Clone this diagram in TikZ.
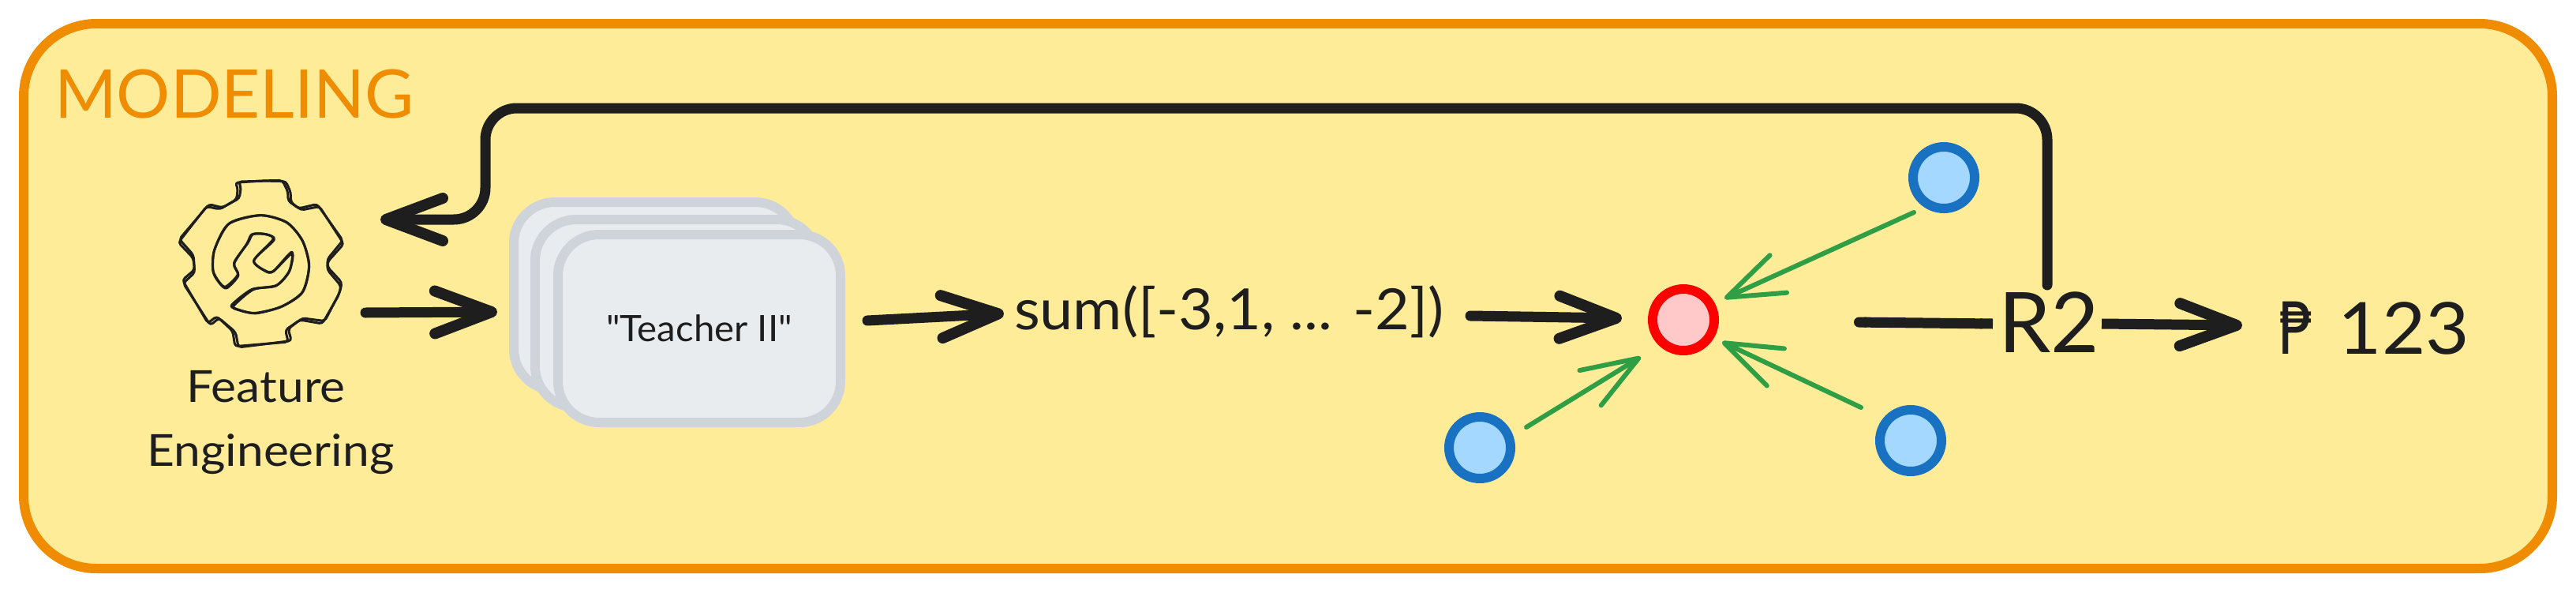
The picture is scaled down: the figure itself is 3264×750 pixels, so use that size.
\documentclass[tikz,border=0pt]{standalone}
\usepackage{fontspec}
\setmainfont{Lato}[Ligatures=TeXOff]
\newfontfamily\pesofont{DejaVu Sans}
\usetikzlibrary{arrows.meta}
\definecolor{ink}{HTML}{1E1E1E}
\definecolor{panelfill}{HTML}{FFEC99}
\definecolor{panelline}{HTML}{F08C00}
\definecolor{cardfill}{HTML}{E9ECEF}
\definecolor{cardline}{HTML}{CED4DA}
\definecolor{bluefill}{HTML}{A5D8FF}
\definecolor{blueline}{HTML}{1971C2}
\definecolor{redfill}{HTML}{FFC9C9}
\definecolor{redline}{HTML}{FF0000}
\definecolor{greenline}{HTML}{2F9E44}
\newcommand{\wide}[1]{\addfontfeatures{FakeStretch=#1}}
\tikzset{
  panel/.style={draw=panelline,fill=panelfill,line width=12pt,rounded corners=92pt},
  cardbox/.style={draw=cardline,fill=cardfill,line width=12pt,rounded corners=52pt,minimum width=358pt,minimum height=238pt,inner sep=0pt,outer sep=0pt},
  blackarrow/.style={draw=ink,line width=13pt,line cap=round,-{Straight Barb[length=72pt,width=54pt,line width=14pt,round]}},
  greenarrow/.style={draw=greenline,line width=6pt,line cap=round,-{Straight Barb[length=72pt,width=52pt,line width=6pt,round]}},
  bluedot/.style={circle,draw=blueline,fill=bluefill,line width=12pt,minimum size=78pt,inner sep=0pt,outer sep=0pt},
  reddot/.style={circle,draw=redline,fill=redfill,line width=12pt,minimum size=78pt,inner sep=0pt,outer sep=0pt},
  label/.style={text=ink,inner sep=0pt,outer sep=0pt,anchor=base},
  gearline/.style={draw=ink,line width=3pt,line join=round,line cap=round},
}
\begin{document}
\begin{tikzpicture}[x=1pt,y=-1pt]
\useasboundingbox (0,0) rectangle (3264,750);
\fill[white] (0,0) rectangle (3264,750);
\draw[panel] (30,30) rectangle (3234,720);
\node[label,text=panelline,anchor=base west,font=\fontsize{85}{90}\selectfont] (title) at (69,149) {MODELING};

% gear icon
\begin{scope}[shift={(150,180)},x=0.3333pt,y=-0.3333pt]
\foreach \ang in {-1.2,1.2} {
\begin{scope}[rotate around={\ang:(540,460)}]
\draw[gearline,rounded corners=4pt] (450,152) -- (555,147) -- (630,147) -- (650,190) -- (650,225) -- (690,255) -- (760,240) -- (855,380) -- (795,450) -- (795,480) -- (848,540) -- (840,575) -- (780,685) -- (695,672) -- (640,712) -- (652,757) -- (450,778) -- (440,720) -- (378,665) -- (345,692) -- (245,530) -- (290,490) -- (285,435) -- (230,375) -- (340,240) -- (390,252) -- (455,215) -- (460,170) -- cycle;
\draw[gearline] plot[smooth cycle,tension=0.45] coordinates {(435,620) (510,560) (600,545) (650,490) (660,420) (590,490) (560,490) (515,450) (590,370) (560,350) (510,350) (490,385) (440,460) (455,505) (410,552) (385,535) (360,490) (365,410) (420,310) (540,278) (640,305) (700,375) (725,470) (700,570) (620,625) (520,650) (450,635)};
\end{scope}
}
\end{scope}
\node[label,font=\fontsize{56}{60}\selectfont\wide{1.08}] (feature) at (337,509) {Feature};
\node[label,font=\fontsize{56}{60}\selectfont\wide{1.08}] (engineering) at (343,590) {Engineering};

% stacked cards
\node[cardbox] (card1) at (830,375) {};
\node[cardbox] (card2) at (857,397) {};
\node[cardbox] (card3) at (886,416) {};
\node[label,font=\fontsize{46}{50}\selectfont\wide{1.03}] (teacher) at (886,432) {"Teacher II"};

\node[label,anchor=base west,font=\fontsize{72}{80}\selectfont\wide{1.05}] (sum) at (1285,417) {sum([-3,1, ... -2])};

\node[reddot] (target) at (2133,405) {};
\node[bluedot] (bluetr) at (2463,225) {};
\node[bluedot] (bluebl) at (1875,567) {};
\node[bluedot] (bluebr) at (2421,558) {};

\node[inner sep=0pt,outer sep=0pt,minimum width=138pt,minimum height=98pt] (rtwo) at (2594,410) {};
\node[label,font=\fontsize{106}{110}\selectfont] (rtext) at (2596,446) {R2};
\node[label,anchor=base west,font=\fontsize{91}{100}\selectfont\wide{1.05}] (price) at (2887,448) {\scalebox{0.78}[1]{\pesofont ₱}\hspace{6pt} 123};

% end points of connectors
\coordinate (gearout) at (463,396);
\coordinate (cardin) at (630,395);
\coordinate (gearin) at (482,278);
\coordinate (cardout) at (1099,406);
\coordinate (sumin) at (1272,397);
\coordinate (sumout) at (1863,400);
\coordinate (targetin) at (2055,403);
\coordinate (targetout) at (2349,408);
\coordinate (pricein) at (2841,412);
\coordinate (tropt) at (2425,269);
\coordinate (trtip) at (2185,378);
\coordinate (blopt) at (1934,541);
\coordinate (bltip) at (2079,452);
\coordinate (bropt) at (2358,516);
\coordinate (brtip) at (2182,433);

\draw[blackarrow] (gearout) -- (cardin);
\draw[blackarrow] (cardout) -- (sumin);
\draw[blackarrow] (sumout) -- (targetin);
\draw[draw=ink,line width=13pt,{Round Cap[]}-{Butt Cap[]}] (targetout) -- (rtwo.west);
\draw[blackarrow,line cap=butt] (rtwo.east) -- (pricein);
\draw[blackarrow,rounded corners=40pt] (rtwo.north) -- (2594,137) -- (615,137) -- (615,278) -- (gearin);

\draw[greenarrow] (tropt) -- (trtip);
\draw[greenarrow] (blopt) -- (bltip);
\draw[greenarrow] (bropt) -- (brtip);
\end{tikzpicture}
\end{document}
